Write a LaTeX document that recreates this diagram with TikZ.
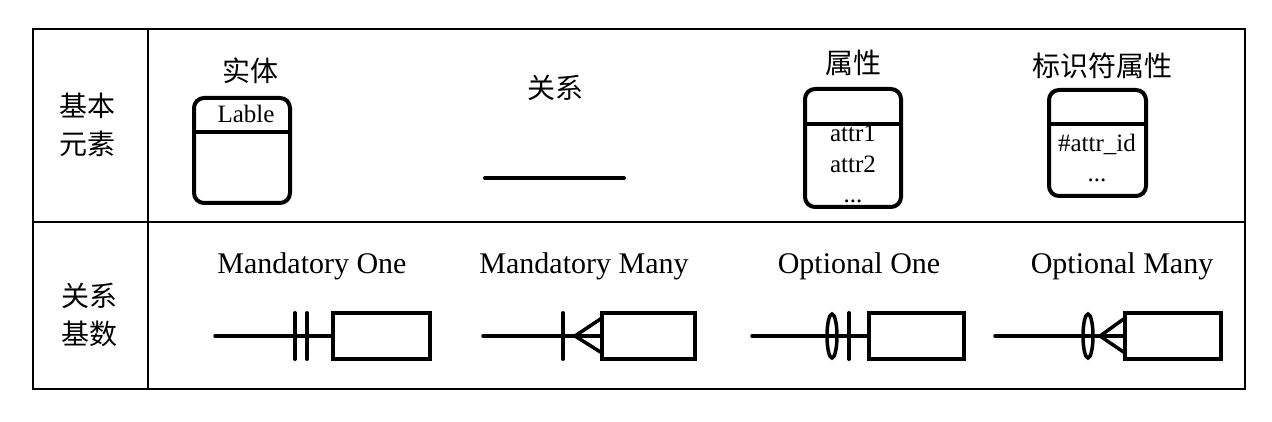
\documentclass[tikz,border=0pt]{standalone}
\usepackage{fontspec}
\setmainfont{Liberation Serif}
\newfontfamily\cjk{Noto Sans CJK SC}
\begin{document}
\begin{tikzpicture}[x=1pt,y=-1pt,
  gridline/.style={line width=2pt},
  zh/.style={font=\cjk\fontsize{28}{34}\selectfont, inner sep=0pt, anchor=base},
  en/.style={font=\fontsize{30}{36}\selectfont, inner sep=0pt, anchor=base},
  sm/.style={font=\fontsize{25}{30}\selectfont, inner sep=0pt, anchor=base},
  tbl/.style={draw, line width=4pt, rounded corners=10pt, outer sep=0pt, inner sep=0pt},
  card/.style={draw, line width=4pt, minimum width=95pt, minimum height=46pt, outer sep=0pt, inner sep=0pt},
  lnk/.style={line width=3.5pt},
  thick4/.style={line width=4pt, line cap=round},
]
\useasboundingbox (0,0) rectangle (1272,422);
% table
\draw[gridline] (33,29) rectangle (1245,389);
\draw[gridline] (33,222) -- (1245,222);
\draw[gridline] (148,29) -- (148,389);

% row headers
\node[zh] (h1a) at (87,117) {基本};
\node[zh] (h1b) at (87,155) {元素};
\node[zh] (h2a) at (89,306) {关系};
\node[zh] (h2b) at (89,344) {基数};

% titles upper row
\node[zh] (t1) at (250,82) {实体};
\node[zh] (t2) at (555,99) {关系};
\node[zh] (t3) at (853,74) {属性};
\node[zh] (t4) at (1102,77) {标识符属性};

% entity
\node[tbl, minimum width=96pt, minimum height=105pt] (ent) at (242,150.5) {};
\draw[thick4, line cap=butt] (ent.west |- 0,132) -- (ent.east |- 0,132);
\node[sm] (entl) at (246,123) {Lable};

% relation
\coordinate (r1) at (485,178);
\coordinate (r2) at (624,178);
\draw[thick4] (r1) -- (r2);

% attribute
\node[tbl, minimum width=96pt, minimum height=118pt] (attr) at (853,148) {};
\draw[thick4, line cap=butt] (attr.west |- 0,124) -- (attr.east |- 0,124);
\node[sm] (a1) at (853,142) {attr1};
\node[sm] (a2) at (853,173) {attr2};
\node[sm] (a3) at (853,203) {...};

% identifier attribute
\node[tbl, minimum width=97pt, minimum height=106pt] (idb) at (1097.5,143) {};
\draw[thick4, line cap=butt] (idb.west |- 0,124) -- (idb.east |- 0,124);
\node[sm] (i1) at (1097,152) {\#attr\_id};
\node[sm] (i2) at (1097,182) {...};

% lower row titles
\node[en] (c1) at (312,273) {Mandatory One};
\node[en] (c2) at (584,273) {Mandatory Many};
\node[en] (c3) at (859,273) {Optional One};
\node[en] (c4) at (1122,273) {Optional Many};

% Mandatory One
\node[card, minimum width=97pt] (mo) at (381.5,336) {};
\coordinate (mos) at (215,336);
\draw[lnk, line cap=round] (mos) -- (mo.west);
\draw[thick4] (295,313) -- (295,359);
\draw[thick4] (307,313) -- (307,359);

% Mandatory Many
\node[card, minimum width=93pt] (mm) at (648.5,336) {};
\coordinate (mms) at (483,336);
\coordinate (mma) at (575,336);
\draw[lnk, line cap=round] (mms) -- (mm.west);
\draw[thick4] (563,313) -- (563,359);
\draw[lnk] (mm.west |- 0,318) -- (mma) -- (mm.west |- 0,353);

% Optional One
\node[card, minimum width=95pt] (oo) at (916.5,336) {};
\coordinate (oos) at (752,336);
\draw[lnk, line cap=round] (oos) -- (oo.west);
\draw[line width=3.5pt] (832,336) ellipse [x radius=5, y radius=22];
\draw[thick4] (849,313) -- (849,359);

% Optional Many
\node[card, minimum width=96pt] (om) at (1173,336) {};
\coordinate (oms) at (995,336);
\coordinate (oma) at (1100,336);
\draw[lnk, line cap=round] (oms) -- (om.west);
\draw[line width=3.5pt] (1088,336) ellipse [x radius=5, y radius=22];
\draw[lnk] (om.west |- 0,318) -- (oma) -- (om.west |- 0,353);
\end{tikzpicture}
\end{document}
